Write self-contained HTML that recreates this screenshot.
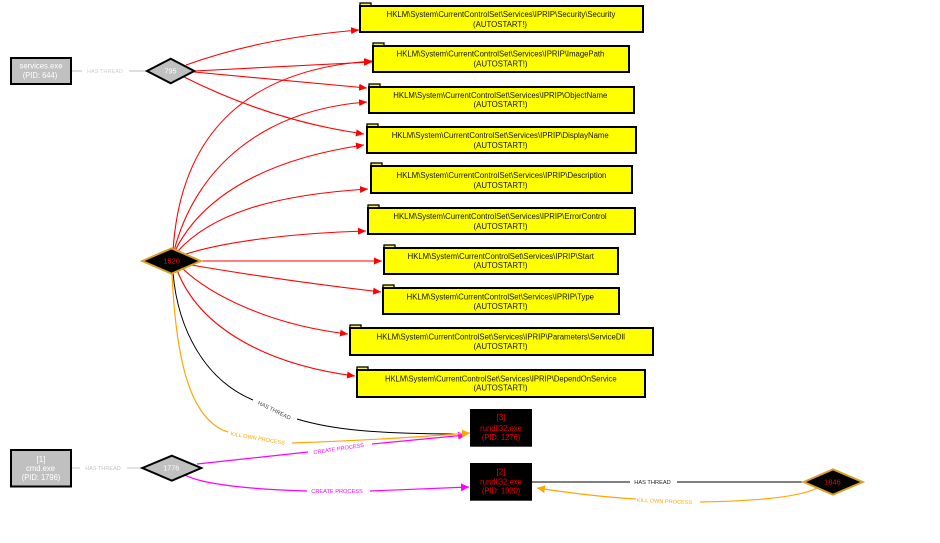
<!DOCTYPE html>
<html><head><meta charset="utf-8"><style>
html,body{margin:0;padding:0;background:#fff;}
svg{display:block;}
text{font-family:"Liberation Sans",Arial,sans-serif;}
</style></head><body>
<svg width="940" height="543" viewBox="0 0 940 543" xmlns="http://www.w3.org/2000/svg">
<defs>
<marker id="ar" markerUnits="userSpaceOnUse" markerWidth="9" markerHeight="8" refX="8" refY="4" orient="auto"><path d="M0,0.5 L8,4 L0,7.5 z" fill="#ff0000"/></marker>
<marker id="ao" markerUnits="userSpaceOnUse" markerWidth="9" markerHeight="9" refX="8" refY="4.5" orient="auto"><path d="M0,0.5 L8,4.5 L0,8.5 z" fill="#ffa500"/></marker>
<marker id="am" markerUnits="userSpaceOnUse" markerWidth="9" markerHeight="9" refX="8" refY="4.5" orient="auto"><path d="M0,0.5 L8,4.5 L0,8.5 z" fill="#ff00ff"/></marker>
</defs>

<!-- gray has-thread edges -->
<g stroke="#d3d3d3" stroke-width="1.5" fill="none">
<path d="M71,71 L82,71"/><path d="M129,71 L147,71"/>
</g>
<g stroke="#c4c4c4" stroke-width="1" fill="none">
<path d="M71,468 L80,468"/><path d="M127,468 L143,468"/>
</g>
<text x="105" y="73" font-size="5.6" fill="#d0d0d0" text-anchor="middle" textLength="36" lengthAdjust="spacingAndGlyphs">HAS THREAD</text>
<text x="103" y="470" font-size="5.6" fill="#c4c4c4" text-anchor="middle" textLength="35.5" lengthAdjust="spacingAndGlyphs">HAS THREAD</text>

<!-- red edges -->
<g stroke="#ff0000" stroke-width="1.1" fill="none" marker-end="url(#ar)">
<path d="M186,65 Q260,38 359,30"/>
<path d="M194,71 L372,62"/>
<path d="M194,72 L367,88"/>
<path d="M184,77 C240,105 300,125 364,134"/>
<path d="M173,251 C180,140 240,70 372,61"/>
<path d="M174,251 C195,170 260,110 367,102"/>
<path d="M175,251 C200,200 260,160 364,145"/>
<path d="M177,252 C210,215 270,195 368,189"/>
<path d="M186,254 C230,240 300,233 366,231"/>
<path d="M200,261 L382,261"/>
<path d="M191,265 C250,275 320,285 381,292"/>
<path d="M182,268 C210,295 270,325 348,334"/>
<path d="M177,270 C200,330 270,365 355,376"/>
</g>

<!-- black has thread 1520 -> [3] -->
<g stroke="#000" stroke-width="1" fill="none">
<path d="M173,273 C178,330 205,380 253,400"/>
<path d="M297,419 C330,429 370,434 467,434"/>
<path d="M532,482 L630,482"/>
<path d="M677,482 L804,482"/>
</g>
<text transform="translate(273.5,412) rotate(26)" font-size="5.6" fill="#444" text-anchor="middle" textLength="36" lengthAdjust="spacingAndGlyphs">HAS THREAD</text>
<text x="652.5" y="484" font-size="5.6" fill="#222" text-anchor="middle" textLength="36.5" lengthAdjust="spacingAndGlyphs">HAS THREAD</text>

<!-- magenta create process -->
<g stroke="#ff00ff" stroke-width="1.2" fill="none">
<path d="M197,464 L308,452"/>
<path d="M372,444 L466,435" marker-end="url(#am)"/>
<path d="M185,475 C200,483 240,489 307,491"/>
<path d="M370,491 L469,487" marker-end="url(#am)"/>
</g>
<text transform="translate(339,450.5) rotate(-8.5)" font-size="5.5" fill="#ff00ff" text-anchor="middle" textLength="51" lengthAdjust="spacingAndGlyphs">CREATE PROCESS</text>
<text x="337" y="493" font-size="5.5" fill="#ff00ff" text-anchor="middle" textLength="51.5" lengthAdjust="spacingAndGlyphs">CREATE PROCESS</text>

<!-- orange kill own process -->
<g stroke="#ffa500" stroke-width="1.2" fill="none">
<path d="M172,274 C176,360 190,420 228,432"/>
<path d="M292,443 C350,441 420,437 470,433" marker-end="url(#ao)"/>
<path d="M817,488 C800,497 760,501 700,502"/>
<path d="M636,499 C600,497 570,493 537,488" marker-end="url(#ao)"/>
</g>
<text transform="translate(257.5,440) rotate(10)" font-size="5.3" fill="#ffa500" text-anchor="middle" textLength="55" lengthAdjust="spacingAndGlyphs">KILL OWN PROCESS</text>
<text transform="translate(664.5,503) rotate(2.5)" font-size="5.3" fill="#ffa500" text-anchor="middle" textLength="55.5" lengthAdjust="spacingAndGlyphs">KILL OWN PROCESS</text>

<!-- process boxes -->
<rect x="11" y="58" width="60" height="26" fill="#c0c0c0" stroke="#000" stroke-width="2"/>
<text x="41" y="68.5" font-size="8" fill="#fff" text-anchor="middle" textLength="43" lengthAdjust="spacingAndGlyphs">services.exe</text>
<text x="40" y="78" font-size="8" fill="#fff" text-anchor="middle" textLength="34.6" lengthAdjust="spacingAndGlyphs">(PID: 644)</text>

<rect x="11" y="450" width="60" height="36.5" fill="#c0c0c0" stroke="#000" stroke-width="2"/>
<text x="41" y="461.8" font-size="8" fill="#fff" text-anchor="middle">[1]</text>
<text x="40.5" y="470.8" font-size="8" fill="#fff" text-anchor="middle" textLength="29" lengthAdjust="spacingAndGlyphs">cmd.exe</text>
<text x="41" y="480" font-size="8" fill="#fff" text-anchor="middle" textLength="38.6" lengthAdjust="spacingAndGlyphs">(PID: 1796)</text>

<rect x="470" y="409" width="62" height="37.7" fill="#000"/>
<text x="501" y="420" font-size="8" fill="#ee0000" text-anchor="middle">[3]</text>
<text x="501" y="431" font-size="8" fill="#ee0000" text-anchor="middle" textLength="41.7" lengthAdjust="spacingAndGlyphs">rundll32.exe</text>
<text x="501" y="440" font-size="8" fill="#ee0000" text-anchor="middle" textLength="38.3" lengthAdjust="spacingAndGlyphs">(PID: 1276)</text>

<rect x="470" y="463" width="62" height="37.7" fill="#000"/>
<text x="501" y="474.5" font-size="8" fill="#ee0000" text-anchor="middle">[2]</text>
<text x="501" y="484.5" font-size="8" fill="#ee0000" text-anchor="middle" textLength="41.7" lengthAdjust="spacingAndGlyphs">rundll32.exe</text>
<text x="501" y="493.5" font-size="8" fill="#ee0000" text-anchor="middle" textLength="38.3" lengthAdjust="spacingAndGlyphs">(PID: 1920)</text>

<!-- diamonds -->
<polygon points="147,71 170.7,58.7 194.3,71 170.7,83.3" fill="#c0c0c0" stroke="#000" stroke-width="2"/>
<text x="170.5" y="73.6" font-size="7.4" fill="#fff" text-anchor="middle" textLength="12" lengthAdjust="spacingAndGlyphs">795</text>
<polygon points="142.3,468 171.8,455.7 201.3,468 171.8,480.7" fill="#c0c0c0" stroke="#000" stroke-width="2"/>
<text x="171.3" y="470.6" font-size="7.6" fill="#fff" text-anchor="middle" textLength="16" lengthAdjust="spacingAndGlyphs">1776</text>
<polygon points="142.3,261 171.5,248.3 200.7,261 171.5,273.7" fill="#000" stroke="#d9a02a" stroke-width="2"/>
<text x="171.6" y="263.7" font-size="7.6" fill="#ff0000" text-anchor="middle" textLength="16.7" lengthAdjust="spacingAndGlyphs">1520</text>
<polygon points="803.7,482 833,469.3 862.7,482 833,494.7" fill="#000" stroke="#d9a02a" stroke-width="2"/>
<text x="832.4" y="484.7" font-size="7.6" fill="#ff0000" text-anchor="middle" textLength="16.7" lengthAdjust="spacingAndGlyphs">1846</text>

<!-- registry boxes -->
<g stroke="#000" stroke-width="2" fill="#ffff00">
<rect x="360" y="3" width="11" height="3" stroke-width="1.3"/>
<rect x="360" y="6" width="283" height="26"/>
<rect x="373" y="43" width="11" height="3" stroke-width="1.3"/>
<rect x="373" y="46" width="256" height="26"/>
<rect x="369" y="84" width="11" height="3" stroke-width="1.3"/>
<rect x="369" y="87" width="265" height="26"/>
<rect x="367" y="124" width="11" height="3" stroke-width="1.3"/>
<rect x="367" y="127" width="269" height="26"/>
<rect x="371" y="163" width="11" height="3" stroke-width="1.3"/>
<rect x="371" y="166" width="261" height="27"/>
<rect x="368" y="205" width="11" height="3" stroke-width="1.3"/>
<rect x="368" y="208" width="267" height="26"/>
<rect x="384" y="245" width="11" height="3" stroke-width="1.3"/>
<rect x="384" y="248" width="234" height="26"/>
<rect x="383" y="285" width="11" height="3" stroke-width="1.3"/>
<rect x="383" y="288" width="236" height="26"/>
<rect x="350" y="325" width="11" height="3" stroke-width="1.3"/>
<rect x="350" y="328" width="303" height="27"/>
<rect x="357" y="367" width="11" height="3" stroke-width="1.3"/>
<rect x="357" y="370" width="288" height="27"/>
</g>
<g font-size="8" fill="#111" text-anchor="middle" lengthAdjust="spacingAndGlyphs">
<text x="501" y="17" textLength="228.7" lengthAdjust="spacingAndGlyphs">HKLM\System\CurrentControlSet\Services\IPRIP\Security\Security</text>
<text x="500" y="27" textLength="54" lengthAdjust="spacingAndGlyphs">(AUTOSTART!)</text>
<text x="500.5" y="56.5" textLength="207.7" lengthAdjust="spacingAndGlyphs">HKLM\System\CurrentControlSet\Services\IPRIP\ImagePath</text>
<text x="500.5" y="66.5" textLength="54" lengthAdjust="spacingAndGlyphs">(AUTOSTART!)</text>
<text x="500.3" y="98" textLength="214" lengthAdjust="spacingAndGlyphs">HKLM\System\CurrentControlSet\Services\IPRIP\ObjectName</text>
<text x="500.5" y="107" textLength="54" lengthAdjust="spacingAndGlyphs">(AUTOSTART!)</text>
<text x="500.2" y="138" textLength="217" lengthAdjust="spacingAndGlyphs">HKLM\System\CurrentControlSet\Services\IPRIP\DisplayName</text>
<text x="500.5" y="148" textLength="54" lengthAdjust="spacingAndGlyphs">(AUTOSTART!)</text>
<text x="501.5" y="178" textLength="209.7" lengthAdjust="spacingAndGlyphs">HKLM\System\CurrentControlSet\Services\IPRIP\Description</text>
<text x="500.5" y="188" textLength="54" lengthAdjust="spacingAndGlyphs">(AUTOSTART!)</text>
<text x="500" y="219" textLength="213.3" lengthAdjust="spacingAndGlyphs">HKLM\System\CurrentControlSet\Services\IPRIP\ErrorControl</text>
<text x="500.5" y="229" textLength="54" lengthAdjust="spacingAndGlyphs">(AUTOSTART!)</text>
<text x="500.8" y="259" textLength="186.3" lengthAdjust="spacingAndGlyphs">HKLM\System\CurrentControlSet\Services\IPRIP\Start</text>
<text x="500.5" y="268" textLength="54" lengthAdjust="spacingAndGlyphs">(AUTOSTART!)</text>
<text x="500.3" y="299.5" textLength="187.3" lengthAdjust="spacingAndGlyphs">HKLM\System\CurrentControlSet\Services\IPRIP\Type</text>
<text x="500.5" y="309" textLength="54" lengthAdjust="spacingAndGlyphs">(AUTOSTART!)</text>
<text x="500.8" y="339.7" textLength="248.3" lengthAdjust="spacingAndGlyphs">HKLM\System\CurrentControlSet\Services\IPRIP\Parameters\ServiceDll</text>
<text x="500.5" y="349" textLength="54" lengthAdjust="spacingAndGlyphs">(AUTOSTART!)</text>
<text x="500.8" y="381.3" textLength="231.7" lengthAdjust="spacingAndGlyphs">HKLM\System\CurrentControlSet\Services\IPRIP\DependOnService</text>
<text x="500.5" y="390.5" textLength="54" lengthAdjust="spacingAndGlyphs">(AUTOSTART!)</text>
</g>
</svg>
</body></html>
